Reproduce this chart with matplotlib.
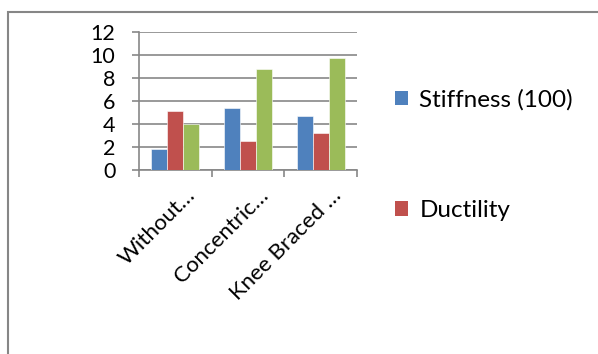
import matplotlib
matplotlib.use("Agg")
import matplotlib.pyplot as plt
from matplotlib.patches import Rectangle, Patch
from matplotlib.transforms import ScaledTranslation
import numpy as np

categories = ["Without…", "Concentric…", "Knee Braced …"]
stiffness = [1.8, 5.4, 4.7]
ductility = [5.1, 2.5, 3.2]
third_series = [4.0, 8.8, 9.7]
series_labels = ["Stiffness (100)", "Ductility"]
colors = ["#4F81BD", "#C0504D", "#9BBB59"]
y_ticks = [0, 2, 4, 6, 8, 10, 12]

plt.rcParams["font.family"] = ["Lato", "DejaVu Sans"]

fig = plt.figure(figsize=(5.98, 3.54), dpi=100)
ax = fig.add_axes([0.2324, 0.5198, 0.3646, 0.3898])

x = np.arange(len(categories))
w = 0.22
grid_c = "#878787"
for i, vals in enumerate([stiffness, ductility, third_series]):
    ax.bar(x + (i - 1) * w, vals, width=w, color=colors[i],
           edgecolor="white", linewidth=0.4, zorder=3)

ax.set_xlim(-0.5, len(categories) - 0.5)
ax.set_ylim(0, 12)
ax.set_yticks(y_ticks)
ax.set_yticklabels([str(t) for t in y_ticks], fontsize=15.5)
ax.yaxis.grid(True, color=grid_c, linewidth=1.2, zorder=0)
ax.set_axisbelow(True)

# category ticks sit on group boundaries
ax.set_xticks(np.arange(-0.5, len(categories) + 0.5, 1.0))
ax.set_xticklabels([])
ax.set_xticks(x, minor=True)
ax.set_xticklabels(categories, minor=True, rotation=45, ha="right",
                   va="center", rotation_mode="anchor", fontsize=16)
ax.tick_params(axis="x", which="minor", length=0, pad=0)
ax.tick_params(axis="x", which="major", length=5, color=grid_c, width=1.2)
ax.tick_params(axis="y", length=5, color=grid_c, width=1.2, pad=12)
shift = ScaledTranslation(17 / 100, -22 / 100, fig.dpi_scale_trans)
for lbl in ax.get_xticklabels(minor=True):
    lbl.set_transform(lbl.get_transform() + shift)

for s in ["top", "right"]:
    ax.spines[s].set_visible(False)
for s in ["left", "bottom"]:
    ax.spines[s].set_color(grid_c)
    ax.spines[s].set_linewidth(1.2)

handles = [Patch(facecolor=colors[0]), Patch(facecolor=colors[1])]
fig.legend(handles, series_labels, loc="upper left",
           bbox_to_anchor=(0.624, 0.81), frameon=False, fontsize=17.5,
           handlelength=0.55, handleheight=0.55, handletextpad=0.45,
           labelspacing=3.67)

# chart area border
fig.patches.append(Rectangle((8 / 598, -0.5), 2.0, 1 - 11.7 / 354 + 0.5,
                             transform=fig.transFigure, fill=False,
                             edgecolor="#868686", linewidth=1.5))

fig.savefig("out.png", dpi=100)
